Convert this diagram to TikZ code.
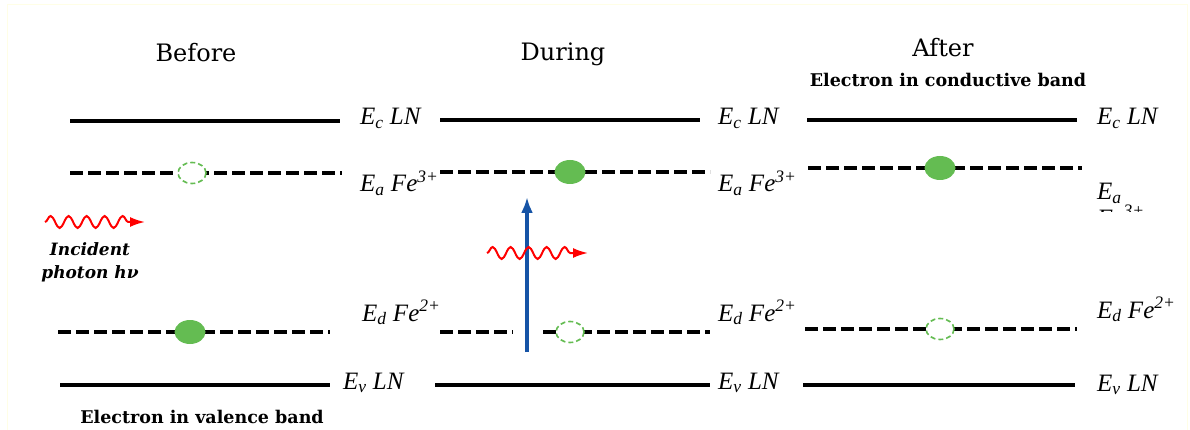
\documentclass[tikz,border=0pt]{standalone}
\usepackage{fontspec}
\setmainfont{Liberation Serif}
\newfontfamily\headfont{DejaVu Serif}
\usetikzlibrary{arrows.meta,shapes.geometric,decorations.pathmorphing}
\definecolor{elecgreen}{RGB}{100,188,82}
\definecolor{jumpblue}{RGB}{22,84,166}

\begin{document}
\begin{tikzpicture}[x=1pt,y=-1pt,>=Latex,
  band/.style={line width=4pt},
  level/.style={line width=3.2pt, dash pattern=on 13pt off 5pt},
  elec/.style={ellipse, fill=elecgreen, minimum width=31pt, minimum height=24pt, inner sep=0pt},
  hole/.style={ellipse, draw=elecgreen, dash pattern=on 5pt off 3pt, line width=1.6pt, fill=white, minimum width=28pt, minimum height=21pt, inner sep=0pt},
  lbl/.style={anchor=base west, font=\fontsize{25}{28}\selectfont\itshape, inner sep=0pt},
  head/.style={anchor=base, font=\headfont\fontsize{24}{27}\selectfont, inner sep=0pt},
  note/.style={anchor=base, font=\headfont\bfseries\fontsize{17.5}{20}\selectfont, inner sep=0pt},
  photon/.style={red, line width=2pt, decorate, decoration={snake, amplitude=6pt, segment length=18pt, post length=16pt}, -{Latex[length=15pt,width=10pt]}}]
  \useasboundingbox (0,0) rectangle (1190,430);
  \draw[yellow!10!white, line width=1pt] (7,440) -- (7,5) -- (1187,5) -- (1187,440);

  % titles
  \node[head] (before) at (196,62) {Before};
  \node[head] (during) at (563,61) {During};
  \node[head] (after)  at (943,57) {After};
  \node[note] (cbnote) at (948,87)  {Electron in conductive band};
  \node[note] (vbnote) at (202,423) {Electron in valence band};

  % before
  \draw[band]  (70,121) -- (340,121);
  \draw[level] (70,173) -- (342,173);
  \draw[level] (58,332) -- (330,332);
  \draw[band]  (60,385) -- (330,385);
  \node[hole] (h1) at (192,173) {};
  \node[elec] (e1) at (190,332) {};
  \coordinate (ph1a) at (45,222);
  \coordinate (ph1b) at (145,222);
  \draw[photon] (ph1a) -- (ph1b);
  \node[font=\headfont\bfseries\itshape\fontsize{17}{23}\selectfont, align=center, inner sep=0pt] (inc) at (90,262) {Incident\\photon hν};
  \node[lbl] (c1) at (360,125) {E\textsubscript{c} LN};
  \node[lbl] (a1) at (360,192) {E\textsubscript{a} Fe\textsuperscript{3+}};
  \node[lbl] (d1) at (362,321) {E\textsubscript{d} Fe\textsuperscript{2+}};
  \node[lbl] (v1) at (343,389) {E\textsubscript{v} LN};

  % during
  \draw[band]  (440,120) -- (700,120);
  \draw[level] (440,172) -- (710,172);
  \draw[level] (440,332) -- (513,332);
  \draw[level] (543,332) -- (710,332);
  \draw[band]  (435,385) -- (710,385);
  \node[elec] (e2) at (570,172) {};
  \node[hole] (h2) at (570,332) {};
  \coordinate (jumpfrom) at (527,352);
  \coordinate (jumpto) at (527,197);
  \draw[jumpblue, line width=3.2pt, -{Latex[length=16pt,width=12pt]}] (jumpfrom) -- (jumpto);
  \coordinate (ph2a) at (487,253);
  \coordinate (ph2b) at (588,253);
  \draw[photon] (ph2a) -- (ph2b);
  \node[lbl] (c2) at (718,125) {E\textsubscript{c} LN};
  \node[lbl] (a2) at (718,192) {E\textsubscript{a} Fe\textsuperscript{3+}};
  \node[lbl] (d2) at (718,321) {E\textsubscript{d} Fe\textsuperscript{2+}};
  \node[lbl] (v2) at (718,389) {E\textsubscript{v} LN};

  % after
  \draw[band]  (807,120) -- (1077,120);
  \draw[level] (808,168) -- (1082,168);
  \draw[level] (805,329) -- (1077,329);
  \draw[band]  (803,385) -- (1075,385);
  \node[elec] (e3) at (940,168) {};
  \node[hole] (h3) at (940,329) {};
  \node[lbl] (c3) at (1097,125) {E\textsubscript{c} LN};
  \node[lbl] (a3) at (1097,200) {E\textsubscript{a}};
  \begin{scope}
    \clip (1090,204) rectangle (1190,212);
    \node[lbl] (fe3) at (1097,226) {Fe\textsuperscript{3+}};
  \end{scope}
  \node[lbl] (d3) at (1097,318) {E\textsubscript{d} Fe\textsuperscript{2+}};
  \node[lbl] (v3) at (1097,391) {E\textsubscript{v} LN};
\end{tikzpicture}
\end{document}
